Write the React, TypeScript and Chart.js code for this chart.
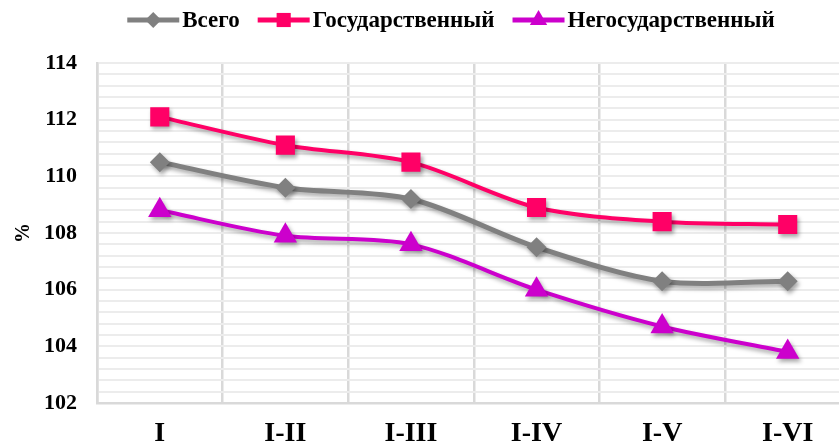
import React, { useEffect, useRef } from 'react';
import { Chart, registerables } from 'chart.js';

Chart.register(...registerables);

const categories = ['I', 'I-II', 'I-III', 'I-IV', 'I-V', 'I-VI'];
const totalValues = [110.5, 109.6, 109.2, 107.5, 106.3, 106.3];
const stateValues = [112.1, 111.1, 110.5, 108.9, 108.4, 108.3];
const nonStateValues = [108.8, 107.9, 107.6, 106.0, 104.7, 103.8];
const seriesNames = ['Всего', 'Государственный', 'Негосударственный'];
const yMin = 102;
const yMax = 114;
const yStep = 0.4;

const FONT = '"Liberation Serif", "DejaVu Serif", serif';
const CANVAS_W = 864;

function drawMarker(ctx: CanvasRenderingContext2D, style: string, x: number, y: number, r: number) {
  ctx.beginPath();
  if (style === 'rect') {
    const s = Math.SQRT1_2 * r;
    ctx.rect(x - s, y - s, 2 * s, 2 * s);
  } else if (style === 'rectRot') {
    ctx.moveTo(x - r, y);
    ctx.lineTo(x, y - r);
    ctx.lineTo(x + r, y);
    ctx.lineTo(x, y + r);
    ctx.closePath();
  } else {
    ctx.moveTo(x, y - r);
    ctx.lineTo(x + r * Math.cos(Math.PI / 6), y + r / 2);
    ctx.lineTo(x - r * Math.cos(Math.PI / 6), y + r / 2);
    ctx.closePath();
  }
  ctx.fill();
}

const legendPlugin = {
  id: 'customLegend',
  afterDraw(chart: any) {
    const ctx: CanvasRenderingContext2D = chart.ctx;
    ctx.save();
    ctx.font = `bold 23px ${FONT}`;
    ctx.textBaseline = 'middle';
    const sample = 52;
    const gap = 3;
    const itemGap = 18;
    const items = chart.data.datasets.map((ds: any) => ({
      ds,
      w: sample + gap + ctx.measureText(ds.label).width,
    }));
    const total = items.reduce((a: number, b: any) => a + b.w, 0) + itemGap * (items.length - 1);
    let x = 451 - total / 2;
    const y = 20;
    for (const it of items) {
      const ds = it.ds;
      ctx.strokeStyle = ds.borderColor;
      ctx.lineWidth = 5;
      ctx.beginPath();
      ctx.moveTo(x, y);
      ctx.lineTo(x + sample, y);
      ctx.stroke();
      ctx.fillStyle = ds.pointBackgroundColor;
      drawMarker(ctx, ds.pointStyle, x + sample / 2, y, ds.pointStyle === 'rectRot' ? 8 : 10);
      ctx.fillStyle = '#000';
      ctx.textAlign = 'left';
      ctx.fillText(ds.label, x + sample + gap, y + 1);
      x += it.w + itemGap;
    }
    ctx.restore();
  },
};

const shadowPlugin = {
  id: 'lineShadow',
  beforeDatasetDraw(chart: any) {
    const ctx = chart.ctx;
    ctx.save();
    ctx.shadowColor = 'rgba(0,0,0,0.35)';
    ctx.shadowBlur = 4;
    ctx.shadowOffsetX = 2;
    ctx.shadowOffsetY = 3;
  },
  afterDatasetDraw(chart: any) {
    chart.ctx.restore();
  },
};

export default function App() {
  const ref = useRef<HTMLCanvasElement>(null);
  useEffect(() => {
    if (!ref.current) return;
    const mk = (label: string, data: number[], color: string, style: string, r: number, w: number) => ({
      label,
      data,
      borderColor: color,
      backgroundColor: color,
      pointBackgroundColor: color,
      pointBorderColor: color,
      pointBorderWidth: 0,
      pointStyle: style,
      pointRadius: r,
      borderWidth: w,
      tension: 0.3,
    });
    const chart = new Chart(ref.current, {
      type: 'line',
      data: {
        labels: categories,
        datasets: [
          mk(seriesNames[0], totalValues, '#808080', 'rectRot', 10, 5),
          mk(seriesNames[1], stateValues, '#FF0066', 'rect', 13.5, 4),
          mk(seriesNames[2], nonStateValues, '#CC00CC', 'triangle', 13.5, 4),
        ] as any,
      },
      options: {
        animation: false,
        responsive: false,
        devicePixelRatio: 1,
        layout: { padding: { top: 63, right: 2, left: 0, bottom: 0 } },
        plugins: {
          legend: { display: false },
          tooltip: { enabled: false },
        },
        scales: {
          x: {
            offset: true,
            grid: { offset: true, color: '#d9d9d9', lineWidth: 2.5, drawTicks: false },
            border: { display: true, color: '#d9d9d9', width: 2.5 },
            ticks: {
              color: '#000',
              font: { family: FONT, size: 28, weight: 'bold' },
              padding: 14,
              maxRotation: 0,
            },
            afterFit: (s: any) => {
              s.height = 41;
              s.paddingRight = 0;
              s.paddingLeft = 0;
            },
          },
          y: {
            min: yMin,
            max: yMax,
            grid: { color: '#ececec', lineWidth: 2, drawTicks: false },
            border: { display: true, color: '#d9d9d9', width: 2.5 },
            ticks: {
              stepSize: yStep,
              autoSkip: false,
              color: '#000',
              font: { family: FONT, size: 22, weight: 'bold' },
              padding: 20,
              callback: (v: any) => {
                const n = Math.round(v);
                return Math.abs(v - n) < 1e-6 && n % 2 === 0 ? String(n) : '';
              },
            },
            title: {
              display: true,
              text: '%',
              color: '#000',
              font: { family: FONT, size: 20, weight: 'bold' },
              padding: { top: 12, bottom: 0 },
            },
            afterFit: (s: any) => {
              s.width = 97;
            },
          },
        },
      } as any,
      plugins: [shadowPlugin, legendPlugin],
    });
    return () => chart.destroy();
  }, []);
  return (
    <div style={{ position: 'fixed', left: 0, top: 0, width: 839, height: 444, overflow: 'hidden', background: '#fff' }}>
      <canvas ref={ref} width={CANVAS_W} height={444} style={{ width: CANVAS_W, height: 444, display: 'block', maxWidth: 'none' }} />
    </div>
  );
}
